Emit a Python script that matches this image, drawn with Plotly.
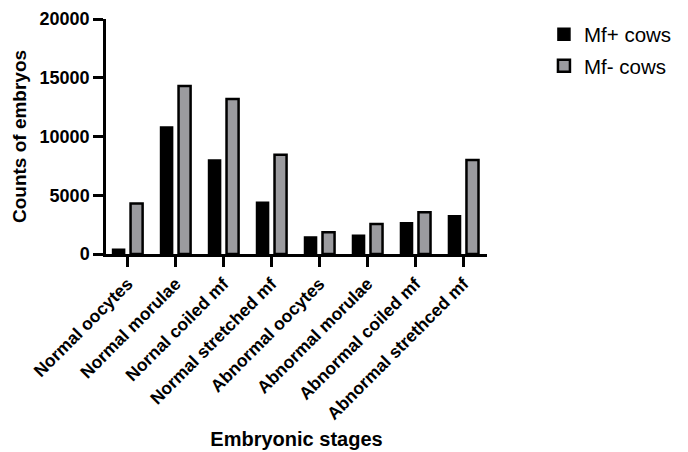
import plotly.graph_objects as go

categories = ["Normal oocytes", "Normal morulae", "Nornal coiled mf", "Normal stretched mf",
              "Abnormal oocytes", "Abnormal morulae", "Abnormal coiled mf", "Abnormal strethced mf"]
mf_pos = [400, 10800, 8000, 4400, 1450, 1600, 2650, 3250]
mf_neg = [4300, 14300, 13200, 8450, 1850, 2550, 3550, 8000]
y_ticks = [0, 5000, 10000, 15000, 20000]
y_ticklabels = ["0", "5000", "10000", "15000", "20000"]

FONT = "Arial, Liberation Sans, sans-serif"

fig = go.Figure()
fig.add_trace(go.Bar(x=categories, y=mf_pos, name="Mf+ cows", legendgroup="a",
                     marker=dict(color="black", line=dict(color="black", width=1.5))))
fig.add_trace(go.Bar(x=categories, y=mf_neg, name="Mf- cows", legendgroup="b",
                     marker=dict(color="#9b9b9f", line=dict(color="black", width=2.5))))

fig.update_layout(
    width=688, height=452,
    margin=dict(l=98, r=209, t=11, b=206),
    plot_bgcolor="white", paper_bgcolor="white",
    barmode="group", bargap=0.25, bargroupgap=0.33,
    font=dict(family=FONT, color="black"),
    showlegend=True,
    legend=dict(x=0.779, y=0.986, xref="container", yref="container",
                xanchor="left", yanchor="top",
                traceorder="grouped", tracegroupgap=2,
                font=dict(family=FONT, size=20.5, color="black"),
                bgcolor="rgba(0,0,0,0)"),
)
fig.update_yaxes(range=[0, 20000], tickvals=y_ticks, ticktext=y_ticklabels,
                 automargin=False,
                 showline=True, linecolor="black", linewidth=2.5,
                 ticks="outside", ticklen=10, tickwidth=2.5, tickcolor="black",
                 showgrid=False, zeroline=False,
                 tickfont=dict(family=FONT, size=18, color="black", weight="bold"),
                 title=dict(text="Counts of embryos", standoff=8,
                            font=dict(family=FONT, size=19, color="black", weight="bold")))
fig.update_xaxes(range=[-0.45, 7.49], automargin=False,
                 showline=True, linecolor="black", linewidth=2.5,
                 ticks="outside", ticklen=10, tickwidth=2.5, tickcolor="black",
                 showgrid=False, tickangle=-45,
                 tickfont=dict(family=FONT, size=17.5, color="black", weight="bold"),
                 title=dict(text="Embryonic stages", standoff=10,
                            font=dict(family=FONT, size=20, color="black", weight="bold")))

fig.write_html("out.html")
